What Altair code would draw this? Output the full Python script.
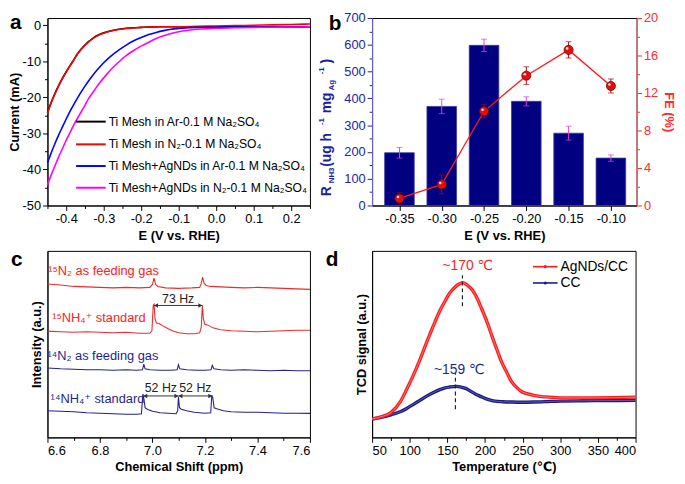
import altair as alt
import pandas as pd

FONT = "Liberation Sans, DejaVu Sans, sans-serif"
MINUS = "\u2212"

# ---------------- panel a : LSV curves ----------------
E_LSV = [-0.45, -0.44, -0.43, -0.42, -0.41, -0.40, -0.39, -0.38, -0.37, -0.36, -0.35,
         -0.34, -0.33, -0.32, -0.31, -0.30, -0.28, -0.26, -0.24, -0.22, -0.20, -0.18,
         -0.16, -0.14, -0.12, -0.10, -0.05, 0.00, 0.05, 0.10, 0.15, 0.20, 0.25]
I_TI_AR = [-24.2, -21.4, -18.9, -16.7, -14.7, -12.9, -11.2, -9.6, -7.9, -6.6, -5.5,
           -4.5, -3.7, -3.0, -2.5, -2.1, -1.5, -1.1, -0.85, -0.7, -0.6, -0.5,
           -0.45, -0.4, -0.4, -0.4, -0.4, -0.4, -0.4, -0.4, -0.4, -0.4, -0.45]
I_TI_N2 = [-24.4, -21.5, -19.0, -16.8, -14.8, -13.0, -11.3, -9.7, -8.0, -6.7, -5.6,
           -4.6, -3.8, -3.1, -2.6, -2.2, -1.6, -1.2, -0.9, -0.75, -0.6, -0.5,
           -0.45, -0.4, -0.4, -0.4, -0.3, -0.2, -0.1, 0.0, 0.1, 0.2, 0.35]
I_AG_AR = [-38.1, -35.4, -32.8, -30.4, -28.2, -26.0, -23.9, -22.0, -20.2, -18.5, -16.9,
           -15.4, -14.0, -12.7, -11.5, -10.4, -8.5, -6.9, -5.5, -4.3, -3.4, -2.6,
           -2.0, -1.5, -1.1, -0.9, -0.6, -0.55, -0.5, -0.5, -0.5, -0.5, -0.5]
I_AG_N2 = [-44.3, -41.5, -39.0, -36.5, -34.2, -31.9, -29.8, -27.7, -25.8, -24.0, -22.2,
           -20.3, -18.8, -17.3, -15.9, -14.6, -12.2, -10.2, -8.4, -7.0, -5.8, -4.7,
           -3.7, -2.9, -2.3, -1.8, -1.1, -0.85, -0.7, -0.6, -0.55, -0.5, -0.45]
LSV_NAMES = ["Ti Mesh in Ar-0.1 M Na\u2082SO\u2084",
             "Ti Mesh in N\u2082-0.1 M Na\u2082SO\u2084",
             "Ti Mesh+AgNDs in Ar-0.1 M Na\u2082SO\u2084",
             "Ti Mesh+AgNDs in N\u2082-0.1 M Na\u2082SO\u2084"]
LSV_COLORS = ["#000000", "#ff0000", "#0000ff", "#ff00ff"]
A_X_TICKS = [-0.45, -0.40, -0.35, -0.30, -0.25, -0.20, -0.15, -0.10, -0.05, 0.0, 0.05, 0.10, 0.15, 0.20, 0.25]
A_Y_TICKS = [-50, -45, -40, -35, -30, -25, -20, -15, -10, -5, 0]

# ---------------- panel b : yield rate + FE ----------------
POTENTIALS = [-0.35, -0.30, -0.25, -0.20, -0.15, -0.10]
RATE = [197, 370, 598, 389, 270, 177]
RATE_ERR = [20, 27, 23, 17, 26, 12]
FE = [0.75, 2.25, 10.05, 13.85, 16.6, 12.75]
FE_ERR = [0.6, 1.0, 0.7, 0.95, 0.87, 0.75]
B_LEFT_TICKS = [0, 50, 100, 150, 200, 250, 300, 350, 400, 450, 500, 550, 600, 650, 700]
B_RIGHT_TICKS = [0, 2, 4, 6, 8, 10, 12, 14, 16, 18, 20]

# ---------------- panel c : 1H NMR ----------------
PPM_15N2 = [6.60, 6.65, 6.70, 6.75, 6.80, 6.85, 6.90, 6.95, 6.99, 7.000, 7.006, 7.012, 7.02, 7.05,
            7.10, 7.15, 7.18, 7.186, 7.191, 7.197, 7.205, 7.22, 7.26, 7.30, 7.35, 7.40, 7.45,
            7.50, 7.55, 7.60]
INT_15N2 = [155.5, 154.5, 153, 152.5, 152, 151.5, 152, 151.5, 152, 155, 161.5, 155, 153, 151.5,
            151, 151.5, 152, 156, 162.5, 156, 154, 153, 152.5, 152, 151.5, 152, 151.5,
            151, 150.5, 150]
PPM_15NH4 = [6.60, 6.65, 6.70, 6.75, 6.80, 6.85, 6.90, 6.95, 6.99, 6.998, 7.003, 7.006, 7.010,
             7.015, 7.025, 7.04, 7.06, 7.08, 7.10, 7.13, 7.16, 7.18, 7.186, 7.190, 7.194, 7.20,
             7.21, 7.23, 7.26, 7.30, 7.35, 7.40, 7.45, 7.50, 7.55, 7.60]
INT_15NH4 = [107.7, 107, 106.5, 107, 106.5, 106, 106.5, 105.5, 105.5, 108, 134, 135, 120,
             116, 115.5, 113, 110, 107.5, 106, 105, 105, 106, 112, 133.5, 120, 114.5,
             114, 111, 109, 108, 107.5, 107, 107.5, 108, 108.5, 108.5]
PPM_14N2 = [6.60, 6.65, 6.70, 6.75, 6.80, 6.85, 6.90, 6.94, 6.962, 6.967, 6.972, 6.99, 7.03,
            7.07, 7.094, 7.099, 7.104, 7.13, 7.17, 7.20, 7.223, 7.228, 7.234, 7.26, 7.30, 7.35,
            7.40, 7.45, 7.50, 7.55, 7.60]
INT_14N2 = [70.3, 69.5, 69, 68.5, 68.5, 68, 68.5, 68, 68.5, 74.3, 69.5, 68.5, 68,
            68, 68.5, 73.7, 69.5, 68.5, 68, 68, 68.5, 73, 69.5, 68.5, 68, 68.5,
            68, 67.5, 68, 67.5, 67.5]
PPM_14NH4 = [6.60, 6.65, 6.70, 6.75, 6.80, 6.85, 6.90, 6.94, 6.958, 6.963, 6.967, 6.972, 6.98,
             7.00, 7.03, 7.06, 7.09, 7.096, 7.099, 7.103, 7.11, 7.13, 7.16, 7.20, 7.222, 7.226,
             7.230, 7.235, 7.245, 7.27, 7.30, 7.35, 7.40, 7.45, 7.50, 7.55, 7.60]
INT_14NH4 = [27, 26.5, 26, 25, 24.5, 24, 23.5, 23.5, 24, 42, 40, 30, 28.5,
             26.5, 25, 24.5, 24, 27, 41, 30, 28.5, 27, 25.5, 24.5, 25, 42.5,
             40, 30, 29, 27, 26, 25.5, 25.5, 25, 24.5, 24.5, 24.3]
C_X_TICKS = [6.6, 6.7, 6.8, 6.9, 7.0, 7.1, 7.2, 7.3, 7.4, 7.5, 7.6]
NMR_LABELS = ["\u00b9\u2075N\u2082 as feeding gas", "\u00b9\u2075NH\u2084\u207a standard",
              "\u00b9\u2074N\u2082 as feeding gas", "\u00b9\u2074NH\u2084\u207a standard"]
NMR_LABEL_PPM = [6.603, 6.618, 6.600, 6.612]
NMR_LABEL_INT = [169, 121, 82, 38.7]
NMR_LABEL_COLORS = ["#ff2020", "#ff2020", "#1f1f8f", "#1f1f8f"]
SPLIT_TEXT = ["73 Hz", "52 Hz", "52 Hz"]
SPLIT_FROM = [7.006, 6.965, 7.099]
SPLIT_TO = [7.190, 7.099, 7.228]
SPLIT_ARROW_Y = [133.7, 42, 42]
SPLIT_TEXT_Y = [140.5, 50.5, 50.5]

# ---------------- panel d : N2-TPD ----------------
T_AG = [50, 62, 75, 88, 96, 105, 114, 122.6, 131, 140, 147, 153, 160, 165, 170, 176, 183, 190,
        196, 203, 209, 216, 222, 229, 235, 242, 248, 256, 265, 280, 300, 320, 343, 370, 400]
TCD_AG = [18.7, 21, 25.3, 37, 49, 63.7, 80, 97, 113, 129, 139, 147, 153, 156, 157.7, 155.5,
          150.3, 141, 130.3, 117, 103.7, 89, 77, 66, 57, 51, 47, 44.5, 42.7, 41.2, 40.3, 40.2,
          40.3, 40.5, 41]
T_CC = [50, 62, 75, 88, 96, 105, 114, 122.6, 131, 140, 147, 153, 162, 168, 175, 181, 187, 194,
        200, 206, 213, 224, 235, 250, 265, 280, 300, 330, 360, 400]
TCD_CC = [18.7, 20.3, 23, 26.3, 29.5, 33.7, 38, 42, 45.5, 48.7, 50.5, 51.3, 52, 51.3, 49.7,
          47, 44.3, 41.8, 39.7, 38.2, 37, 36.3, 36, 35.8, 36, 36.4, 37, 37.3, 37.5, 37.7]
D_X_TICKS = [50, 75, 100, 125, 150, 175, 200, 225, 250, 275, 300, 325, 350, 375, 400]
PEAK_T = [170, 160.7]
PEAK_LO = [133.7, 28.7]
PEAK_HI = [165.3, 65.3]
PEAK_LABEL = ["~170 \u2103", "~159 \u2103"]
PEAK_LABEL_T = [177, 165.8]
PEAK_LABEL_V = [174.3, 68.7]
TPD_NAMES = ["AgNDs/CC", "CC"]
TPD_COLORS = ["#ff1a1a", "#1a1a86"]

RED_T = "#ff2020"
NAVY_T = "#1f1f8f"


def tsize(test, major=5, minor=3):
    return {"condition": {"test": test, "value": major}, "value": minor}


def fmt(expr, spec):
    return f"replace(format({expr}, '{spec}'), '{MINUS}', '-')"


def one():
    return pd.DataFrame({"k": [0]})


def label_at(text, x, y, size=21, color="black", weight="bold", align="left",
             baseline="top", angle=0):
    kw = dict(align=align, baseline=baseline, fontSize=size, fontWeight=weight,
              color=color, font=FONT)
    if angle:
        kw["angle"] = angle
    return alt.Chart(one()).mark_text(**kw).encode(
        x=alt.value(x), y=alt.value(y), text=alt.value(text))


# ======================= panel a =======================
AW, AH = 266, 190
ax_x = alt.Axis(values=A_X_TICKS, title="E (V vs. RHE)",
                labelExpr=f"abs(datum.value*10 - round(datum.value*10)) < 1e-6 ? {fmt('datum.value', '.1f')} : ''",
                tickSize=tsize("abs(datum.value*10 - round(datum.value*10)) < 1e-6"),
                labelPadding=2, titlePadding=4)
ax_y = alt.Axis(values=A_Y_TICKS, title="Current (mA)",
                labelExpr=f"datum.value % 10 == 0 ? {fmt('datum.value', 'd')} : ''",
                tickSize=tsize("datum.value % 10 == 0"),
                labelPadding=2, titlePadding=1, minExtent=25, maxExtent=25)
xa = alt.Scale(domain=[-0.45, 0.25], nice=False, zero=False)
ya = alt.Scale(domain=[-50, 2], nice=False, zero=False)

a_layers = []
for cur, col in zip([I_TI_AR, I_TI_N2, I_AG_AR, I_AG_N2], LSV_COLORS):
    df = pd.DataFrame({"E": E_LSV, "I": cur})
    a_layers.append(alt.Chart(df).mark_line(color=col, strokeWidth=1.6, interpolate="monotone").encode(
        x=alt.X("E:Q", scale=xa, axis=ax_x), y=alt.Y("I:Q", scale=ya, axis=ax_y)))
leg_y = [105, 128, 150, 172]
for name, col, yy in zip(LSV_NAMES, LSV_COLORS, leg_y):
    a_layers.append(alt.Chart(one()).mark_rule(color=col, strokeWidth=2).encode(
        x=alt.value(29), x2=alt.value(59), y=alt.value(yy)))
    a_layers.append(label_at(name, 62, yy, size=12.3, weight="normal", baseline="middle"))
a_layers.append(label_at("a", -38, -6))
panel_a = alt.layer(*a_layers).properties(width=AW, height=AH)

# ======================= panel b =======================
BW, BH = 268, 190
BLUE_AX = "#2323a8"
RED_AX = "#ff2a2a"
dfb = pd.DataFrame({"E": POTENTIALS, "R": RATE, "Rlo": [r - e for r, e in zip(RATE, RATE_ERR)],
                    "Rhi": [r + e for r, e in zip(RATE, RATE_ERR)], "FE": FE,
                    "Flo": [f - e for f, e in zip(FE, FE_ERR)], "Fhi": [f + e for f, e in zip(FE, FE_ERR)]})
xb = alt.Scale(domain=[-0.3765, -0.0755], nice=False, zero=False)
bx_axis = alt.Axis(values=POTENTIALS, title="E (V vs. RHE)", labelExpr=fmt("datum.value", ".2f"),
                   tickSize=5, labelPadding=2, titlePadding=4)
yb_l = alt.Scale(domain=[0, 700], nice=False)
yb_r = alt.Scale(domain=[0, 20], nice=False)
bl_axis = alt.Axis(values=B_LEFT_TICKS, title=None,
                   labelExpr=f"datum.value % 100 == 0 ? format(datum.value, 'd') : ''",
                   tickSize=tsize("datum.value % 100 == 0"), labelColor=BLUE_AX,
                   tickColor=BLUE_AX, domainColor="#6a6ac8", labelPadding=2)
br_axis = alt.Axis(values=B_RIGHT_TICKS, title="FE (%)", orient="right",
                   labelExpr=f"datum.value % 4 == 0 ? format(datum.value, 'd') : ''",
                   tickSize=tsize("datum.value % 4 == 0"), labelColor=RED_AX, tickColor=RED_AX,
                   domainColor="#ff7070", titleColor=RED_AX, labelPadding=2, titlePadding=4)
X_B = alt.X("E:Q", scale=xb, axis=bx_axis)
base_b = alt.Chart(dfb)
bars = alt.layer(
    base_b.mark_bar(size=30, color="#000080", stroke="#3a3aa6", strokeWidth=0.8).encode(
        x=X_B, y=alt.Y("R:Q", scale=yb_l, axis=bl_axis)),
    base_b.mark_rule(color="#e040e0", strokeWidth=1).encode(
        x=X_B, y=alt.Y("Rlo:Q", scale=yb_l, axis=bl_axis), y2="Rhi:Q"),
    base_b.mark_tick(orient="horizontal", size=6, thickness=1, color="#e040e0").encode(
        x=X_B, y=alt.Y("Rlo:Q", scale=yb_l, axis=bl_axis)),
    base_b.mark_tick(orient="horizontal", size=6, thickness=1, color="#e040e0").encode(
        x=X_B, y=alt.Y("Rhi:Q", scale=yb_l, axis=bl_axis)),
)
fe = alt.layer(
    base_b.mark_line(color="#ff1a1a", strokeWidth=1.3).encode(
        x=X_B, y=alt.Y("FE:Q", scale=yb_r, axis=br_axis)),
    base_b.mark_rule(color="#8e1414", strokeWidth=1).encode(
        x=X_B, y=alt.Y("Flo:Q", scale=yb_r, axis=br_axis), y2="Fhi:Q"),
    base_b.mark_tick(orient="horizontal", size=6, thickness=1, color="#8e1414").encode(
        x=X_B, y=alt.Y("Flo:Q", scale=yb_r, axis=br_axis)),
    base_b.mark_tick(orient="horizontal", size=6, thickness=1, color="#8e1414").encode(
        x=X_B, y=alt.Y("Fhi:Q", scale=yb_r, axis=br_axis)),
    base_b.mark_circle(size=85, color="#e01010", opacity=1, stroke="#7a0000", strokeWidth=0.8).encode(
        x=X_B, y=alt.Y("FE:Q", scale=yb_r, axis=br_axis)),
    base_b.mark_point(size=7, filled=True, color="#ffd8d8", opacity=1, xOffset=-1.5, yOffset=-1.5).encode(
        x=X_B, y=alt.Y("FE:Q", scale=yb_r, axis=br_axis)),
)
TITLE_C = "#1d1d9e"
b_title = [
    label_at("R", -46, 180.5, size=14, color=TITLE_C, baseline="middle", angle=270),
    label_at("NH3", -40.5, 167.5, size=8, color=TITLE_C, baseline="middle", angle=270),
    label_at("(ug h", -46, 150.8, size=14, color=TITLE_C, baseline="middle", angle=270),
    label_at("-1", -51, 108.5, size=8, color=TITLE_C, baseline="middle", angle=270),
    label_at("mg", -46, 96.5, size=14, color=TITLE_C, baseline="middle", angle=270),
    label_at("Ag", -40.5, 73.5, size=8, color=TITLE_C, baseline="middle", angle=270),
    label_at("-1", -51, 57, size=8, color=TITLE_C, baseline="middle", angle=270),
    label_at(")", -46, 46, size=14, color=TITLE_C, baseline="middle", angle=270),
    label_at("b", -44, -5),
]
panel_b = alt.layer(bars, fe, *b_title).resolve_scale(y="independent").properties(width=BW, height=BH)

# ======================= panel c =======================
CW, CH = 266, 189
xc = alt.Scale(domain=[6.6, 7.6], nice=False, zero=False)
yc = alt.Scale(domain=[0, 189], nice=False)
cx_axis = alt.Axis(values=C_X_TICKS, title="Chemical Shift (ppm)",
                   labelExpr=f"abs(datum.value*5 - round(datum.value*5)) < 1e-6 ? format(datum.value, '.1f') : ''",
                   tickSize=tsize("abs(datum.value*5 - round(datum.value*5)) < 1e-6"),
                   labelPadding=2, titlePadding=4)
cy_axis = alt.Axis(title="Intensity (a.u.)", labels=False, ticks=False, titlePadding=4)
c_layers = []
for ppm, inten, col in [(PPM_15N2, INT_15N2, "#f02a2a"), (PPM_15NH4, INT_15NH4, "#f02a2a"),
                        (PPM_14N2, INT_14N2, "#23238c"), (PPM_14NH4, INT_14NH4, "#23238c")]:
    df = pd.DataFrame({"ppm": ppm, "v": inten})
    c_layers.append(alt.Chart(df).mark_line(color=col, strokeWidth=1.1).encode(
        x=alt.X("ppm:Q", scale=xc, axis=cx_axis), y=alt.Y("v:Q", scale=yc, axis=cy_axis)))
dfl = pd.DataFrame({"ppm": NMR_LABEL_PPM, "v": NMR_LABEL_INT, "t": NMR_LABELS, "c": NMR_LABEL_COLORS})
c_layers.append(alt.Chart(dfl).mark_text(align="left", baseline="middle", fontSize=13, font=FONT).encode(
    x=alt.X("ppm:Q", scale=xc, axis=cx_axis), y=alt.Y("v:Q", scale=yc, axis=cy_axis), text="t:N",
    color=alt.Color("c:N", scale=None)))
dfs = pd.DataFrame({"a": SPLIT_FROM, "b": SPLIT_TO, "y": SPLIT_ARROW_Y, "ty": SPLIT_TEXT_Y, "t": SPLIT_TEXT,
                    "m": [(f + t) / 2 for f, t in zip(SPLIT_FROM, SPLIT_TO)]})
c_layers.append(alt.Chart(dfs).mark_rule(color="#333333", strokeWidth=1).encode(
    x=alt.X("a:Q", scale=xc, axis=cx_axis), x2="b:Q", y=alt.Y("y:Q", scale=yc, axis=cy_axis)))
c_layers.append(alt.Chart(dfs).mark_point(shape="triangle-left", filled=True, size=22, color="#333333", opacity=1,
                                          xOffset=2).encode(
    x=alt.X("a:Q", scale=xc, axis=cx_axis), y=alt.Y("y:Q", scale=yc, axis=cy_axis)))
c_layers.append(alt.Chart(dfs).mark_point(shape="triangle-right", filled=True, size=22, color="#333333", opacity=1,
                                          xOffset=-2).encode(
    x=alt.X("b:Q", scale=xc, axis=cx_axis), y=alt.Y("y:Q", scale=yc, axis=cy_axis)))
c_layers.append(alt.Chart(dfs).mark_text(fontSize=12.5, font=FONT, color="#222222", baseline="middle").encode(
    x=alt.X("m:Q", scale=xc, axis=cx_axis), y=alt.Y("ty:Q", scale=yc, axis=cy_axis), text="t:N"))
c_layers.append(label_at("c", -37, -2))
panel_c = alt.layer(*c_layers).properties(width=CW, height=CH)

# ======================= panel d =======================
DW, DH = 267, 189
xd = alt.Scale(domain=[50, 400], nice=False, zero=False)
yd = alt.Scale(domain=[0, 190], nice=False)
dx_axis = alt.Axis(values=D_X_TICKS, title="Temperature (\u2103)",
                   labelExpr="datum.value % 50 == 0 ? format(datum.value, 'd') : ''",
                   tickSize=tsize("datum.value % 50 == 0"), labelPadding=2, titlePadding=4)
dy_axis = alt.Axis(title="TCD signal (a.u.)", labels=False, ticks=False, titlePadding=4)
d_layers = []
for tt, vv, col, inner in [(T_CC, TCD_CC, TPD_COLORS[1], "#6b6bb0"), (T_AG, TCD_AG, TPD_COLORS[0], "#ff8a8a")]:
    df = pd.DataFrame({"T": tt, "v": vv})
    d_layers.append(alt.Chart(df).mark_line(color=col, strokeWidth=3.4, interpolate="monotone").encode(
        x=alt.X("T:Q", scale=xd, axis=dx_axis), y=alt.Y("v:Q", scale=yd, axis=dy_axis)))
    d_layers.append(alt.Chart(df).mark_line(color=inner, strokeWidth=0.8, interpolate="monotone").encode(
        x=alt.X("T:Q", scale=xd, axis=dx_axis), y=alt.Y("v:Q", scale=yd, axis=dy_axis)))
dfp = pd.DataFrame({"T": PEAK_T, "lo": PEAK_LO, "hi": PEAK_HI})
d_layers.append(alt.Chart(dfp).mark_rule(color="#222222", strokeWidth=1.2, strokeDash=[4, 3]).encode(
    x=alt.X("T:Q", scale=xd, axis=dx_axis), y=alt.Y("lo:Q", scale=yd, axis=dy_axis), y2="hi:Q"))
dft = pd.DataFrame({"T": PEAK_LABEL_T, "v": PEAK_LABEL_V, "t": PEAK_LABEL, "c": [RED_T, NAVY_T]})
d_layers.append(alt.Chart(dft).mark_text(fontSize=14, font=FONT, baseline="middle").encode(
    x=alt.X("T:Q", scale=xd, axis=dx_axis), y=alt.Y("v:Q", scale=yd, axis=dy_axis), text="t:N",
    color=alt.Color("c:N", scale=None)))
for name, col, yy in zip(TPD_NAMES, TPD_COLORS, [16, 32.5]):
    d_layers.append(alt.Chart(one()).mark_rule(color=col, strokeWidth=1.6).encode(
        x=alt.value(163), x2=alt.value(188), y=alt.value(yy)))
    d_layers.append(alt.Chart(one()).mark_circle(size=10, color=col, opacity=1).encode(
        x=alt.value(175.5), y=alt.value(yy)))
    d_layers.append(label_at(name, 191, yy, size=14, weight="normal", baseline="middle"))
d_layers.append(label_at("d", -47, -2))
panel_d = alt.layer(*d_layers).properties(width=DW, height=DH)

chart = alt.concat(panel_a, panel_b, panel_c, panel_d, columns=2,
                   spacing={"row": 46, "column": 63}, bounds="flush", align="each").properties(
    padding={"left": 0, "top": 0, "right": 2, "bottom": 0}
).configure(font=FONT).configure_view(stroke="black", strokeWidth=1).configure_axis(
    labelFont=FONT, titleFont=FONT, labelFontSize=13, titleFontSize=13, titleFontWeight="bold",
    grid=False, domainColor="black", tickColor="black", labelColor="black", titleColor="black",
    tickWidth=1, domainWidth=1)

chart.save("out.html", embed_options={"renderer": "svg", "actions": False})
